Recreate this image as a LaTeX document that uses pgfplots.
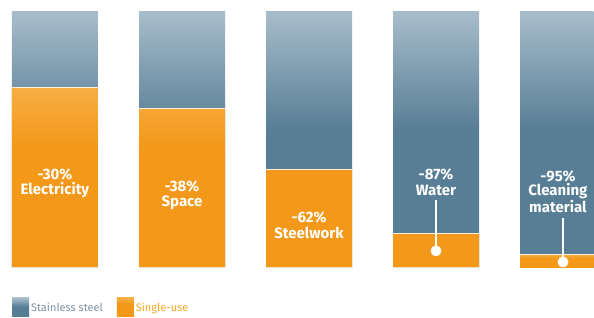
\documentclass[border=0pt]{standalone}
\usepackage{pgfplots}
\pgfplotsset{compat=1.18}
\usepackage{fontspec}
\setmainfont{Fira Sans}
\definecolor{bdark}{HTML}{587E95}
\definecolor{blight}{HTML}{A8BDCB}
\definecolor{odark}{HTML}{F39818}
\definecolor{olight}{HTML}{F7AE42}
\definecolor{legblue}{HTML}{7D93A1}
\definecolor{legorange}{HTML}{F5A623}
\pgfdeclareverticalshading{blueshade}{100bp}{color(0bp)=(bdark); color(25bp)=(bdark); color(52bp)=(bdark); color(75bp)=(blight); color(100bp)=(blight)}
\pgfdeclareverticalshading{orangeshade}{100bp}{color(0bp)=(odark); color(25bp)=(odark); color(58bp)=(odark); color(75bp)=(olight); color(100bp)=(olight)}
\begin{document}
\begin{tikzpicture}
\begin{axis}[
  at={(0,0)}, anchor=south west,
  scale only axis, width=594pt, height=317pt,
  xmin=-0.433, xmax=4.244, ymin=-19.53, ymax=104.3,
  hide axis, bar width=86pt, bar shift=0pt,
  clip=true,
  legend style={draw=none, fill=none, at={(axis description cs:0.02,0.0)}, anchor=south west,
    legend columns=2, font=\fontsize{11}{13}\selectfont, inner sep=0pt,
    /tikz/every even column/.append style={column sep=12pt}},
  legend image code/.code={\path[#1, draw=none] (0pt,-9pt) rectangle (17pt,10pt);},
]
\addplot[ybar, draw=none, shade, shading=blueshade] coordinates {(0,100)(1,100)(2,100)(3,100)};
\addlegendentry{\textcolor{legblue}{Stainless steel}}
\addplot[ybar, draw=none, shade, shading=orangeshade] coordinates {(0,70)(1,62)(2,38)(3,13)};
\addlegendentry{\textcolor{legorange}{Single-use}}
% fifth bar, cut by the right edge of the picture
\addplot[ybar, bar width=73.5pt, bar shift=-6.25pt, draw=none, shade, shading=blueshade, forget plot] coordinates {(4,100)};
\addplot[ybar, bar width=73.5pt, bar shift=-6.25pt, draw=none, shade, shading=orangeshade, forget plot] coordinates {(4,5)};
\addplot[white!85!odark, line width=0.7pt, forget plot] coordinates {(-0.339,70)(0.339,70)};
\addplot[white!85!odark, line width=0.7pt, forget plot] coordinates {(0.661,62)(1.339,62)};
\addplot[white!85!odark, line width=0.7pt, forget plot] coordinates {(1.661,38)(2.339,38)};
\addplot[white!85!odark, line width=0.7pt, forget plot] coordinates {(2.661,13)(3.339,13)};
\addplot[white!85!odark, line width=0.7pt, forget plot] coordinates {(3.661,5)(4.240,5)};
\addplot[white, line width=1.3pt, forget plot] coordinates {(3,26.0)(3,6.3)};
\addplot[white, line width=1.3pt, forget plot] coordinates {(4,19.1)(4,1.95)};
\addplot[only marks, mark=*, mark size=5.2pt, white, forget plot] coordinates {(3,6.3)(4,1.95)};
\node[font=\bfseries\fontsize{15}{15.5}\selectfont, white, align=center] at (axis cs:0,32.8) {-30\%\\Electricity};
\node[font=\bfseries\fontsize{15}{15.5}\selectfont, white, align=center] at (axis cs:1,28.1) {-38\%\\Space};
\node[font=\bfseries\fontsize{15}{15.5}\selectfont, white, align=center] at (axis cs:2,16.4) {-62\%\\Steelwork};
\node[font=\bfseries\fontsize{15}{15.5}\selectfont, white, align=center] at (axis cs:3,33.2) {-87\%\\Water};
\node[font=\bfseries\fontsize{15}{14.5}\selectfont, white, align=center, inner xsep=0pt] at (axis cs:3.96,29.5) {-95\%\\Cleaning\\material};
\end{axis}
\path (0,0) rectangle (594pt,317pt);
\end{tikzpicture}
\end{document}
